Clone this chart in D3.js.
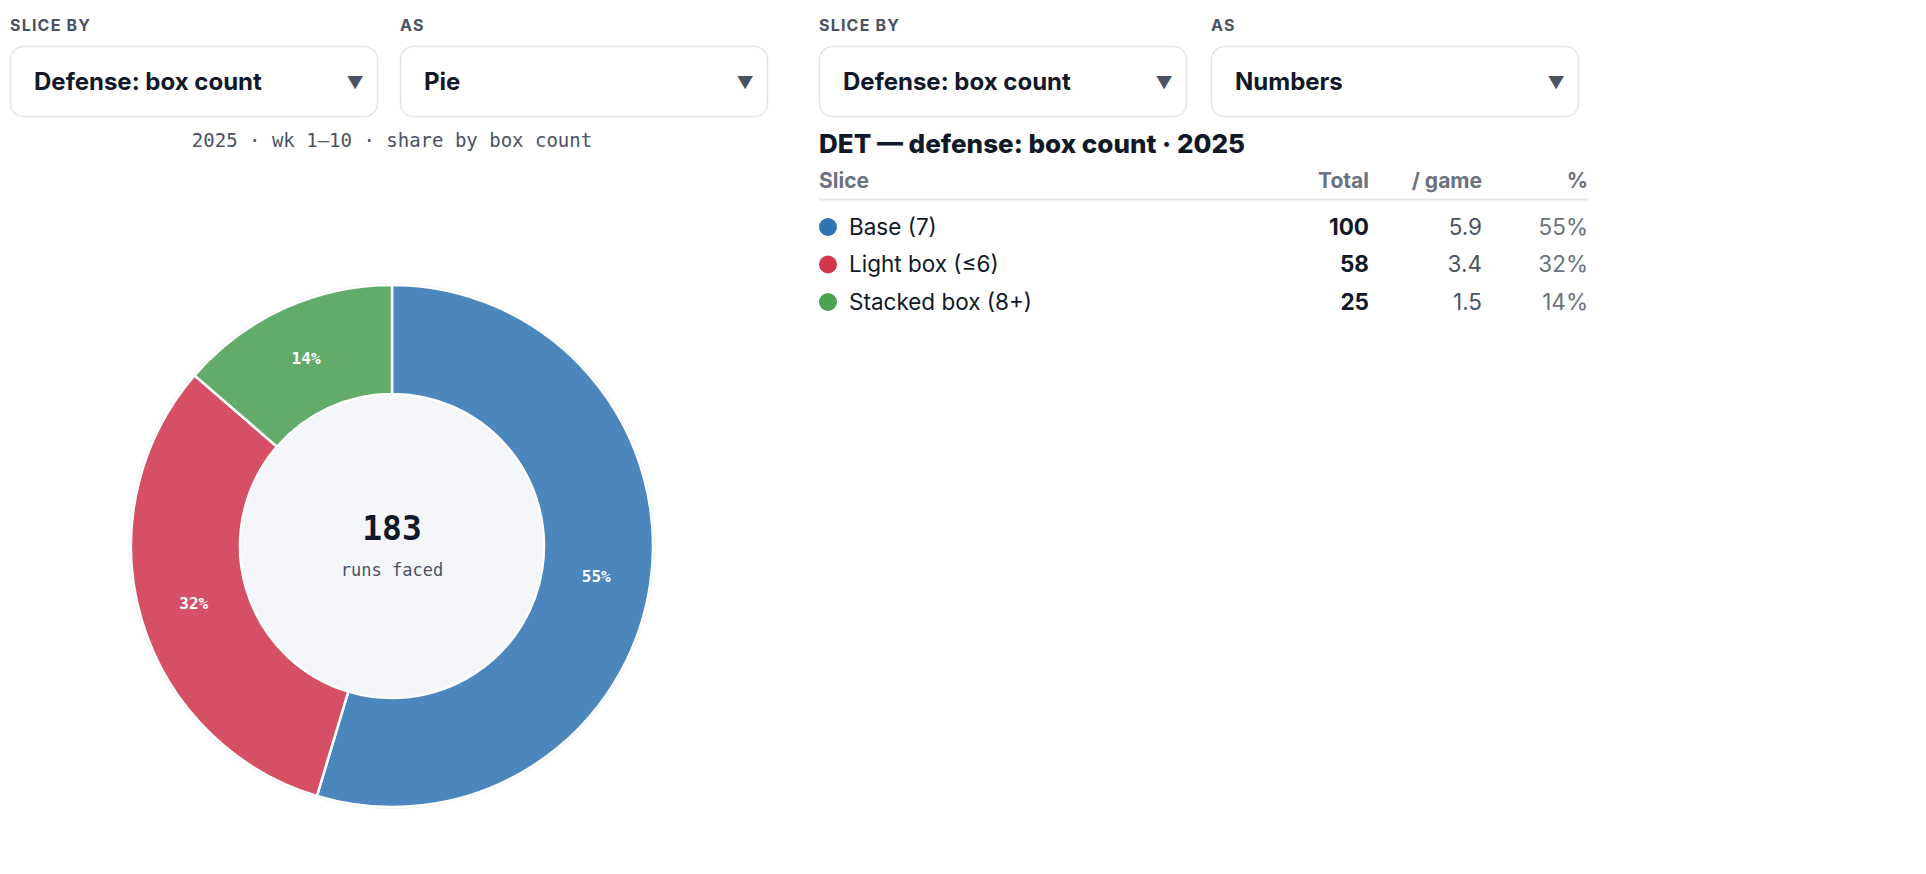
<!DOCTYPE html>
<html>
<head>
<meta charset="utf-8">
<script src="https://cdn.jsdelivr.net/npm/d3@7"></script>
<style>
  body { margin: 0; background: #fff; }
  text { font-family: Inter, "Noto Sans", sans-serif; }
  .mono { font-family: "DejaVu Sans Mono", monospace; }
</style>
</head>
<body>
<svg id="chart" width="1926" height="874"></svg>
<script>
// data
var slices = ["Base (7)", "Light box (\u22646)", "Stacked box (8+)"];
var totals = [100, 58, 25];
var perGame = ["5.9", "3.4", "1.5"];
var pieColors = ["#4b86bc", "#d55064", "#63ab6a"];
var dotColors = ["#2f74b5", "#d2374c", "#4ba253"];
var controls = [
  {x: 10, label: "SLICE BY", value: "Defense: box count"},
  {x: 400, label: "AS", value: "Pie"},
  {x: 819, label: "SLICE BY", value: "Defense: box count"},
  {x: 1211, label: "AS", value: "Numbers"}
];

var svg = d3.select("#chart");
var sum = d3.sum(totals);
var pct = function(v) { return Math.round(v / sum * 100) + "%"; };

// dropdown controls
var ctl = svg.selectAll("g.ctl").data(controls).enter().append("g")
  .attr("transform", function(d) { return "translate(" + d.x + ",0)"; });
ctl.append("text").attr("x", 0).attr("y", 31)
  .attr("font-size", 16).attr("font-weight", 700).attr("letter-spacing", 1.2)
  .attr("fill", "#4a5263").text(function(d) { return d.label; });
ctl.append("rect").attr("x", 0.5).attr("y", 46.5).attr("width", 367).attr("height", 70)
  .attr("rx", 13).attr("fill", "#fff").attr("stroke", "#e3e5e9").attr("stroke-width", 1.5);
ctl.append("text").attr("x", 24).attr("y", 90)
  .attr("font-size", 24).attr("font-weight", 700).attr("fill", "#111827")
  .text(function(d) { return d.value; });
ctl.append("text").attr("x", 345).attr("y", 89).attr("text-anchor", "middle")
  .attr("font-size", 17).attr("fill", "#4a5263").text("\u25BC");

// subtitle
svg.append("text").attr("class", "mono").attr("x", 392).attr("y", 147)
  .attr("text-anchor", "middle").attr("font-size", 19).attr("fill", "#4a5263")
  .text("2025 \u00B7 wk 1\u201310 \u00B7 share by box count");

// donut
var cx = 392, cy = 546, rOut = 261, rIn = 152;
var g = svg.append("g").attr("transform", "translate(" + cx + "," + cy + ")");
var pie = d3.pie().sort(null).value(function(d) { return d; });
var arc = d3.arc().innerRadius(rIn).outerRadius(rOut);
var arcs = pie(totals);
g.append("circle").attr("r", rOut + 1).attr("fill", "none").attr("stroke", "#eef0f6").attr("stroke-width", 2);
g.selectAll("path").data(arcs).enter().append("path")
  .attr("d", arc).attr("fill", function(d, i) { return pieColors[i]; })
  .attr("stroke", "#fff").attr("stroke-width", 2.5);
g.append("circle").attr("r", rIn - 1).attr("fill", "#f4f6fa");
g.selectAll("text.pl").data(arcs).enter().append("text")
  .attr("class", "mono")
  .attr("transform", function(d) { return "translate(" + arc.centroid(d) + ")"; })
  .attr("text-anchor", "middle").attr("dy", "0.35em")
  .attr("font-size", 16).attr("font-weight", 700).attr("fill", "#fff")
  .text(function(d) { return pct(d.value); });
g.append("text").attr("class", "mono").attr("y", -6).attr("text-anchor", "middle")
  .attr("font-size", 33).attr("font-weight", 700).attr("fill", "#111827").text(sum);
g.append("text").attr("class", "mono").attr("y", 30).attr("text-anchor", "middle")
  .attr("font-size", 17).attr("fill", "#4a5263").text("runs faced");

// numbers table
var tx = 819;
svg.append("text").attr("x", tx).attr("y", 153)
  .attr("font-size", 26).attr("font-weight", 800).attr("fill", "#111827")
  .text("DET \u2014 defense: box count \u00B7 2025");
var cols = [
  {x: 1369, label: "Total"},
  {x: 1482, label: "/ game"},
  {x: 1588, label: "%"}
];
svg.append("text").attr("x", tx).attr("y", 188).attr("font-size", 21)
  .attr("font-weight", 700).attr("fill", "#6b7280").text("Slice");
svg.selectAll("text.hd").data(cols).enter().append("text")
  .attr("x", function(d) { return d.x; }).attr("y", 188).attr("text-anchor", "end")
  .attr("font-size", 21).attr("font-weight", 700).attr("fill", "#6b7280")
  .text(function(d) { return d.label; });
svg.append("line").attr("x1", tx).attr("x2", 1588).attr("y1", 199.5).attr("y2", 199.5)
  .attr("stroke", "#e3e5e9").attr("stroke-width", 2);

var y = d3.scalePoint().domain(slices).range([227, 302]);
var row = svg.selectAll("g.row").data(slices).enter().append("g")
  .attr("transform", function(d) { return "translate(0," + y(d) + ")"; });
row.append("circle").attr("cx", tx + 9).attr("cy", 0).attr("r", 9)
  .attr("fill", function(d, i) { return dotColors[i]; });
row.append("text").attr("x", 849).attr("dy", "0.35em").attr("font-size", 22.5)
  .attr("fill", "#111827").text(function(d) { return d; });
row.append("text").attr("x", cols[0].x).attr("dy", "0.35em").attr("text-anchor", "end")
  .attr("font-size", 22.5).attr("font-weight", 700).attr("fill", "#111827")
  .text(function(d, i) { return totals[i]; });
row.append("text").attr("x", cols[1].x).attr("dy", "0.35em").attr("text-anchor", "end")
  .attr("font-size", 22.5).attr("fill", "#4a5263")
  .text(function(d, i) { return perGame[i]; });
row.append("text").attr("x", cols[2].x).attr("dy", "0.35em").attr("text-anchor", "end")
  .attr("font-size", 22.5).attr("fill", "#6b7280")
  .text(function(d, i) { return pct(totals[i]); });
</script>
</body>
</html>
